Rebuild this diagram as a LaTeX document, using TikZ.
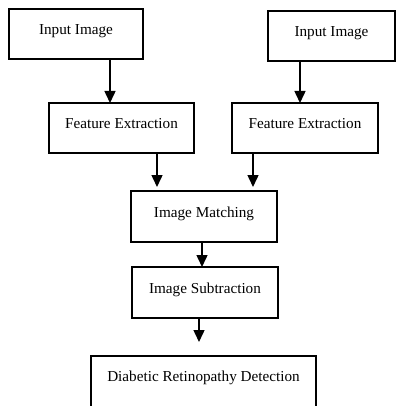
\documentclass[tikz,border=0pt]{standalone}
\usepackage{fontspec}
\setmainfont{Liberation Serif}
\usetikzlibrary{arrows.meta}
\begin{document}
\begin{tikzpicture}[x=1pt,y=-1pt,
  box/.style={draw, line width=1.5pt, inner sep=0pt, outer sep=0pt,
    text height=8pt, text depth=7pt,
    font=\fontsize{15.2}{18}\selectfont, minimum height=50pt},
  arr/.style={line width=1.5pt, -{Triangle[width=11pt,length=12pt]}}]
\clip (0,0) rectangle (396,406);

% processing stages
\node[box, minimum width=134pt] (in1)  at (76,34)     {Input Image};
\node[box, minimum width=127pt] (in2)  at (331.5,36)  {Input Image};
\node[box, minimum width=145pt] (fe1)  at (121.5,128) {Feature Extraction};
\node[box, minimum width=146pt] (fe2)  at (305,128)   {Feature Extraction};
\node[box, minimum width=146pt, minimum height=51pt] (match) at (204,216.5) {Image Matching};
\node[box, minimum width=146pt, minimum height=51pt] (sub)   at (205,292.5) {Image Subtraction};
% last stage runs past the lower edge
\node[box, minimum width=225pt, minimum height=60pt, text depth=17pt] (det) at (203.5,386) {Diabetic Retinopathy Detection};

% flow arrows
\draw[arr] ([xshift=34pt]in1.south) -- ([xshift=34pt]in1.south |- fe1.north);
\draw[arr] ([xshift=-31.5pt]in2.south) -- ([xshift=-31.5pt]in2.south |- fe2.north);
\draw[arr, shorten >=4pt] ([xshift=35.5pt]fe1.south) -- ([xshift=35.5pt]fe1.south |- match.north);
\draw[arr, shorten >=4pt] ([xshift=-52pt]fe2.south) -- ([xshift=-52pt]fe2.south |- match.north);
\draw[arr] ([xshift=-2pt]match.south) -- ([xshift=-2pt]match.south |- sub.north);
\draw[arr, shorten >=14pt] ([xshift=-6pt]sub.south) -- ([xshift=-6pt]sub.south |- det.north);
\end{tikzpicture}
\end{document}
